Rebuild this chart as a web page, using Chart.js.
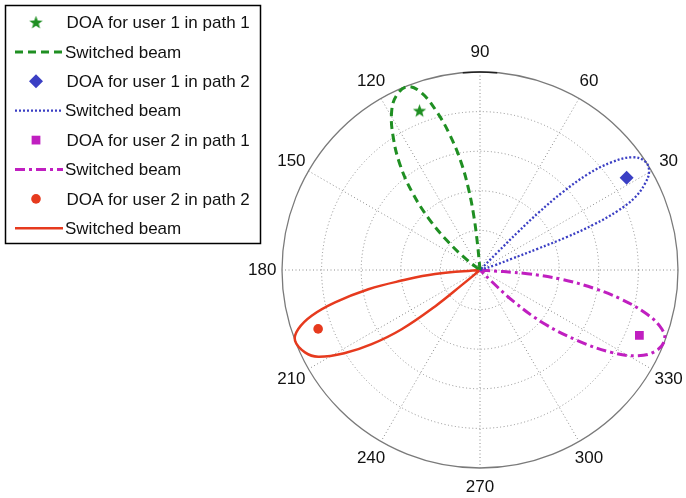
<!DOCTYPE html>
<html>
<head>
<meta charset="utf-8">
<script src="https://cdn.jsdelivr.net/npm/chart.js@4"></script>
<style>
  html, body { margin: 0; padding: 0; background: #fff; }
  #wrap { width: 686px; height: 498px; }
</style>
</head>
<body>
<div id="wrap"><canvas id="polar_chart" width="686" height="498"></canvas></div>
<script>
// angle ticks of the polar grid (degrees) and the rings
const angleTicks = [30, 60, 90, 120, 150, 180, 210, 240, 270, 300, 330]
const angleLabels = ['30', '60', '90', '120', '150', '180', '210', '240', '270', '300', '330']
const ringTicks = [0.2, 0.4, 0.6, 0.8, 1.0]

// switched beams: angle (deg) and normalised gain
const beam1Theta = [95, 95.5, 96.5, 98, 100, 102.5, 105.2, 108.2, 111.5, 115.5, 119.2, 123.2, 127.2, 131, 134.8, 138.5, 142, 143]
const beam1R     = [0, 0.13, 0.27, 0.41, 0.555, 0.695, 0.825, 0.94, 0.995, 0.978, 0.915, 0.8, 0.668, 0.525, 0.37, 0.215, 0.085, 0]

const beam2Theta = [17.5, 18, 19.5, 20.2, 20.8, 21.8, 23.2, 25, 27.6, 30.4, 33.5, 36.6, 39.3, 41.6, 43.3, 44.4, 45, 45.3, 45.5]
const beam2R     = [0, 0.08, 0.17, 0.31, 0.47, 0.62, 0.755, 0.86, 0.94, 0.99, 0.997, 0.955, 0.86, 0.73, 0.57, 0.415, 0.27, 0.12, 0]

const beam3Theta = [357, 355.5, 353.5, 350.8, 348.3, 345.5, 342.7, 339.5, 335.4, 331.5, 327.9, 324.2, 320.2, 316.8, 315.5, 315]
const beam3R     = [0, 0.24, 0.413, 0.587, 0.729, 0.859, 0.95, 0.996, 0.979, 0.908, 0.783, 0.611, 0.426, 0.23, 0.08, 0]

const beam4Theta = [182.5, 185, 187.7, 189.8, 192.6, 195.2, 198.0, 200.9, 205.2, 208.2, 211.6, 214.4, 217.1, 219, 219.6, 220]
const beam4R     = [0, 0.228, 0.399, 0.572, 0.75, 0.881, 0.965, 1.0, 0.977, 0.927, 0.8, 0.663, 0.496, 0.29, 0.12, 0]

// directions of arrival
const doaTheta = [110.8, 32.2, 337.7, 200.0]
const doaR     = [0.86, 0.875, 0.87, 0.87]

const legendLabels = [
    'DOA for user 1 in path 1', 'Switched beam',
    'DOA for user 1 in path 2', 'Switched beam',
    'DOA for user 2 in path 1', 'Switched beam',
    'DOA for user 2 in path 2', 'Switched beam'
]

const FONT = '"Liberation Sans", Arial, Helvetica, sans-serif'
const GREEN = '#1f8f22'
const BLUE = '#3b3fc4'
const MAGENTA = '#c01fc0'
const RED = '#e63a1e'

function polar_to_xy(theta, r) {
    return r.map((v, i) => ({
        x: v * Math.cos(theta[i] * Math.PI / 180),
        y: v * Math.sin(theta[i] * Math.PI / 180)
    }))
}

function make_star(color) {
    const c = document.createElement('canvas')
    c.width = 15; c.height = 15
    const g = c.getContext('2d')
    g.fillStyle = color
    g.beginPath()
    for (let k = 0; k < 10; k++) {
        const rad = (k % 2 == 0) ? 7 : 2.9
        const a = -Math.PI / 2 + k * Math.PI / 5
        g.lineTo(7.5 + rad * Math.cos(a), 7.8 + rad * Math.sin(a))
    }
    g.closePath()
    g.fill()
    return c
}
const star = make_star(GREEN)

const markerStyles = [
    { style: star, color: GREEN, radius: 7 },
    { style: 'rectRot', color: BLUE, radius: 7 },
    { style: 'rect', color: MAGENTA, radius: 6.2 },
    { style: 'circle', color: RED, radius: 4.8 }
]
const lineStyles = [
    { color: GREEN, width: 3, dash: [8, 5] },
    { color: BLUE, width: 2.3, dash: [2, 2] },
    { color: MAGENTA, width: 3, dash: [10, 4, 3, 4] },
    { color: RED, width: 2.5, dash: [] }
]

const polarGrid = {
    id: 'polarGrid',
    beforeDatasetsDraw(chart) {
        const ctx = chart.ctx
        const xs = chart.scales.x, ys = chart.scales.y
        const cx = xs.getPixelForValue(0), cy = ys.getPixelForValue(0)
        const R = xs.getPixelForValue(1) - cx
        ctx.save()
        // dotted rings and spokes
        ctx.strokeStyle = '#8c8c8c'
        ctx.lineWidth = 1
        ctx.setLineDash([1, 2.5])
        ringTicks.slice(0, -1).forEach(t => {
            ctx.beginPath()
            ctx.arc(cx, cy, t * R, 0, Math.PI * 2)
            ctx.stroke()
        })
        for (let a = 0; a < 180; a += 30) {
            const rad = a * Math.PI / 180
            ctx.beginPath()
            ctx.moveTo(cx + R * Math.cos(rad), cy - R * Math.sin(rad))
            ctx.lineTo(cx - R * Math.cos(rad), cy + R * Math.sin(rad))
            ctx.stroke()
        }
        // outer circle
        ctx.setLineDash([])
        ctx.strokeStyle = '#7a7a7a'
        ctx.lineWidth = 1.3
        ctx.beginPath()
        ctx.arc(cx, cy, R, 0, Math.PI * 2)
        ctx.stroke()
        ctx.strokeStyle = '#222'
        ctx.lineWidth = 1.6
        ctx.beginPath()
        ctx.arc(cx, cy, R, -Math.PI * 95 / 180, -Math.PI * 85 / 180)
        ctx.stroke()
        // angle labels
        ctx.fillStyle = '#111'
        ctx.font = `17px ${FONT}`
        ctx.textAlign = 'center'
        ctx.textBaseline = 'middle'
        angleTicks.forEach((a, i) => {
            const rad = a * Math.PI / 180
            const lr = R * 1.1
            ctx.fillText(angleLabels[i], cx + lr * Math.cos(rad), cy - lr * Math.sin(rad))
        })
        ctx.restore()
    }
}

const boxLegend = {
    id: 'boxLegend',
    afterDraw(chart) {
        const ctx = chart.ctx
        ctx.save()
        ctx.strokeStyle = '#000'
        ctx.lineWidth = 1.5
        ctx.strokeRect(5.5, 5.5, 255, 238)
        ctx.font = `17px ${FONT}`
        ctx.fillStyle = '#111'
        ctx.textAlign = 'left'
        ctx.textBaseline = 'middle'
        legendLabels.forEach((label, i) => {
            const y = 22.5 + i * 29.4
            const k = Math.floor(i / 2)
            if (i % 2 == 0) {
                const m = markerStyles[k]
                ctx.fillStyle = m.color
                ctx.strokeStyle = m.color
                Chart.helpers.drawPoint(ctx, { pointStyle: m.style, radius: m.radius, borderWidth: 0 }, 36, y)
                ctx.fillStyle = '#111'
                ctx.fillText(label, 66.5, y + 1)
            } else {
                const l = lineStyles[k]
                ctx.strokeStyle = l.color
                ctx.lineWidth = l.width
                ctx.setLineDash(l.dash)
                ctx.beginPath()
                ctx.moveTo(15, y)
                ctx.lineTo(63, y)
                ctx.stroke()
                ctx.setLineDash([])
                ctx.fillStyle = '#111'
                ctx.fillText(label, 65, y + 1)
            }
        })
        ctx.restore()
    }
}

const beams = [
    polar_to_xy(beam1Theta, beam1R),
    polar_to_xy(beam2Theta, beam2R),
    polar_to_xy(beam3Theta, beam3R),
    polar_to_xy(beam4Theta, beam4R)
]

let datasets = []
beams.forEach((pts, k) => {
    datasets.push({
        data: pts,
        showLine: true,
        pointRadius: 0,
        tension: 0.4,
        borderColor: lineStyles[k].color,
        borderWidth: lineStyles[k].width,
        borderDash: lineStyles[k].dash,
        clip: false,
        order: 2
    })
})
doaTheta.forEach((t, k) => {
    datasets.push({
        data: polar_to_xy([t], [doaR[k]]),
        pointStyle: markerStyles[k].style,
        pointRadius: markerStyles[k].radius,
        backgroundColor: markerStyles[k].color,
        borderColor: markerStyles[k].color,
        borderWidth: 0,
        clip: false,
        order: 1
    })
})

new Chart(document.getElementById('polar_chart'), {
    type: 'scatter',
    data: { datasets: datasets },
    options: {
        responsive: false,
        animation: false,
        devicePixelRatio: 1,
        layout: { padding: { left: 282, right: 8, top: 72, bottom: 30 } },
        scales: {
            x: { type: 'linear', min: -1, max: 1, display: false },
            y: { type: 'linear', min: -1, max: 1, display: false }
        },
        plugins: {
            legend: { display: false },
            tooltip: { enabled: false }
        }
    },
    plugins: [polarGrid, boxLegend]
});
</script>
</body>
</html>
